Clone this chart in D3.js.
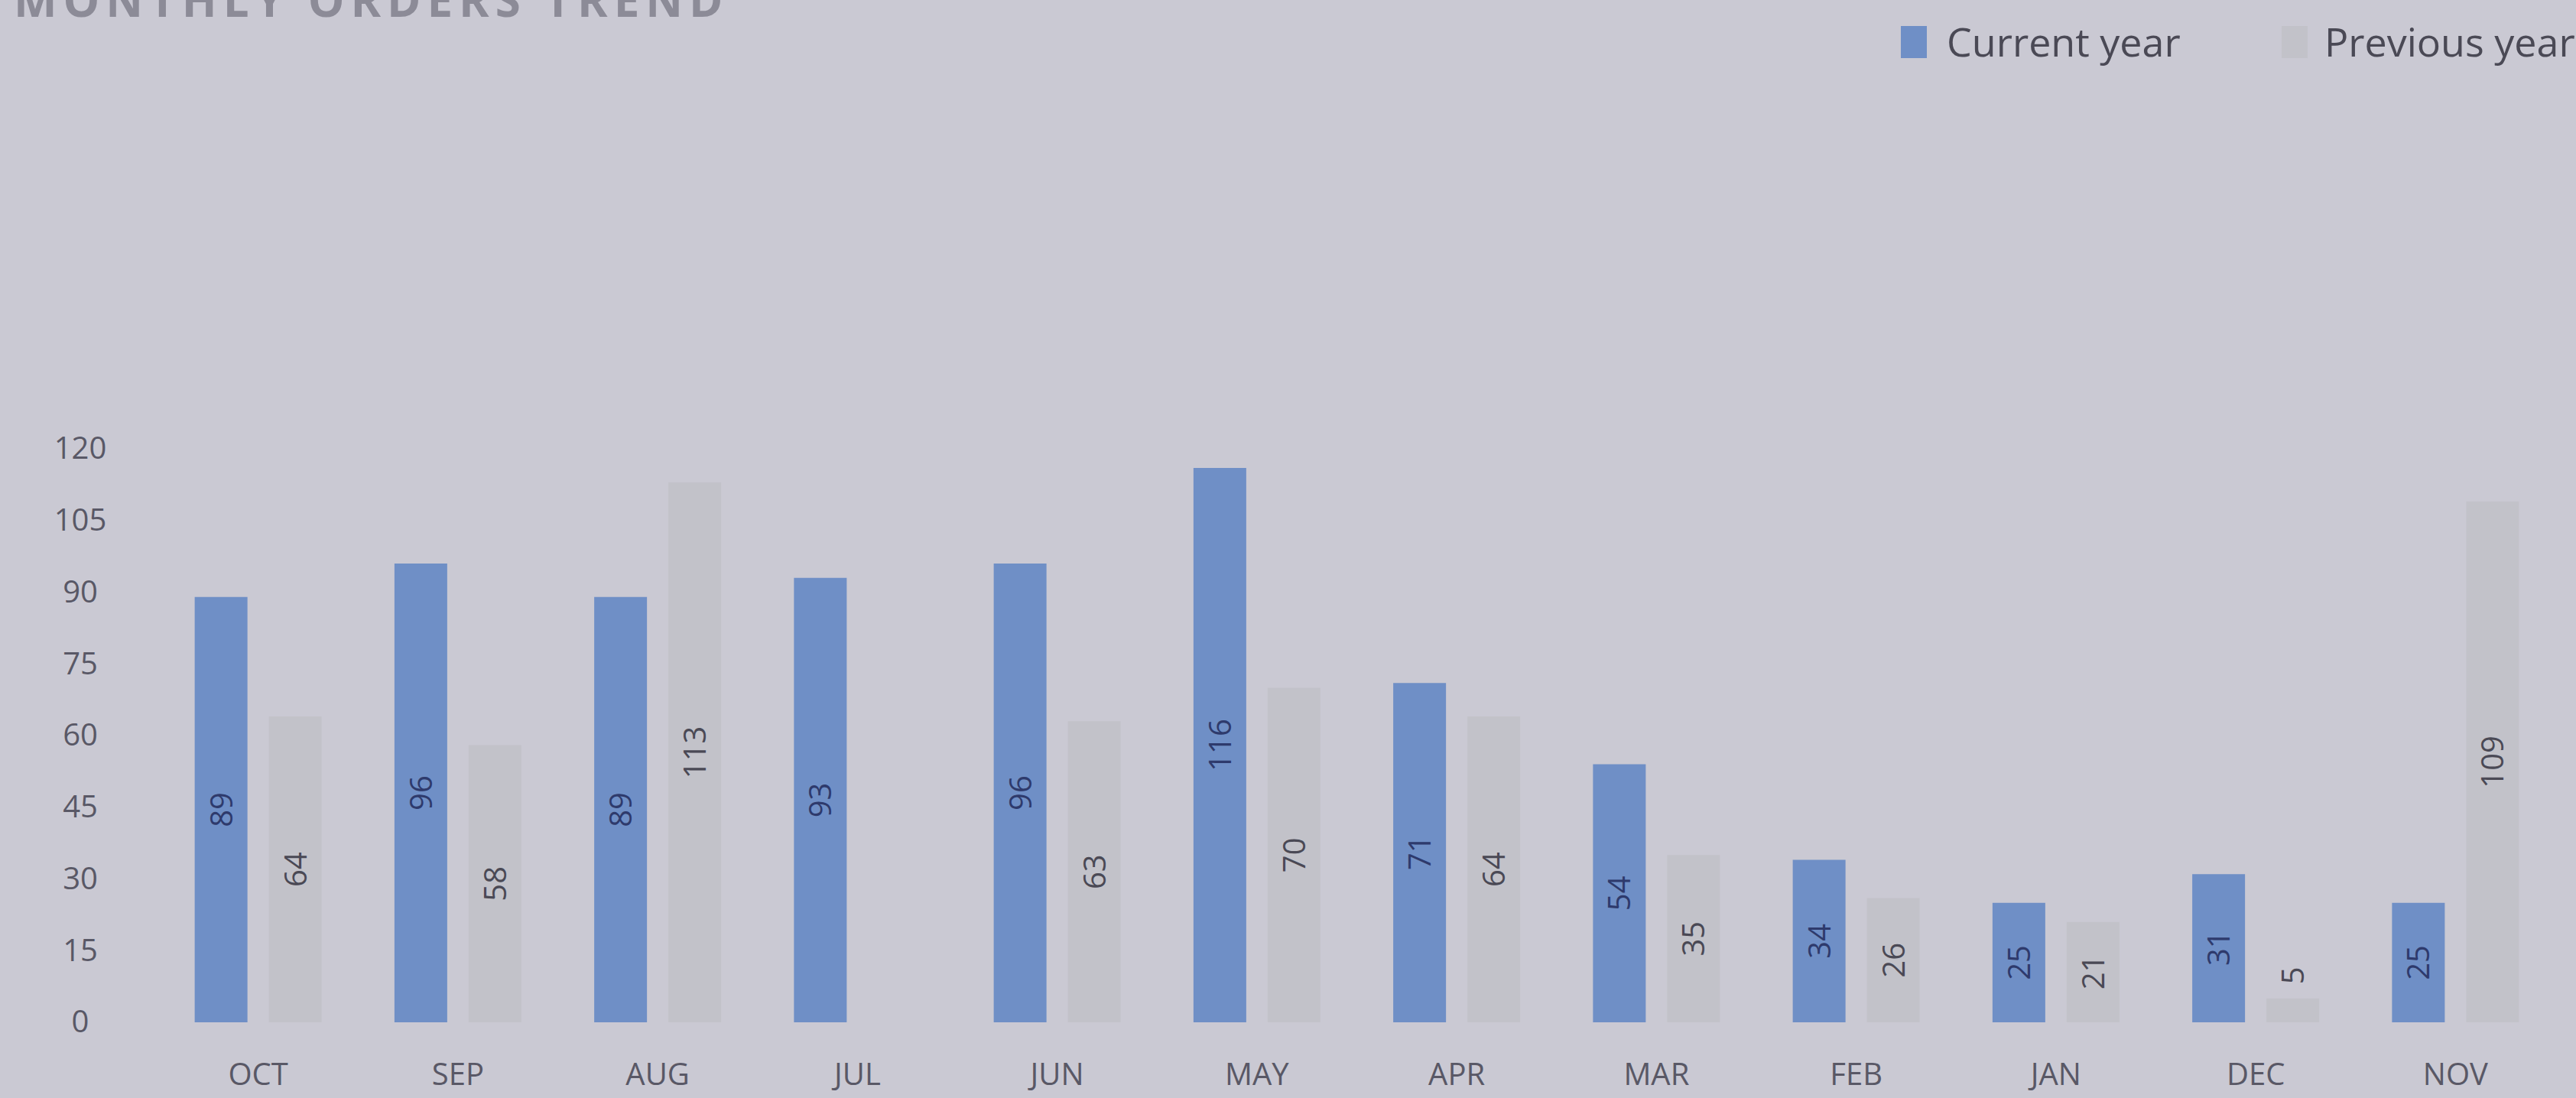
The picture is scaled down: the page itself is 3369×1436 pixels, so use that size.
<!DOCTYPE html>
<html>
<head>
<meta charset="utf-8">
<script src="https://cdn.jsdelivr.net/npm/d3@7"></script>
<style>
  html, body { margin: 0; padding: 0; background: #cac9d3; overflow: hidden; }
  svg { display: block; }
</style>
</head>
<body>
<svg id="chart" width="3369" height="1436"></svg>
<script>
// ---- data ----
const months = ["OCT", "SEP", "AUG", "JUL", "JUN", "MAY", "APR", "MAR", "FEB", "JAN", "DEC", "NOV"];
const currentYear = [89, 96, 89, 93, 96, 116, 71, 54, 34, 25, 31, 25];
const previousYear = [64, 58, 113, null, 63, 70, 64, 35, 26, 21, 5, 109];
const yTicks = [0, 15, 30, 45, 60, 75, 90, 105, 120];
const seriesNames = ["Current year", "Previous year"];
const titleText = "MONTHLY ORDERS TREND";

// ---- styles ----
const W = 3369, H = 1436;
const bg = "#cac9d3";
const blue = "#6f8fc6";
const grey = "#c2c2c9";
const font = "'Open Sans', 'DejaVu Sans', sans-serif";

const svg = d3.select("#chart");
svg.append("rect").attr("width", W).attr("height", H).attr("fill", bg);

// title (partially cut off at top as in the photo)
svg.append("text")
  .attr("x", 18).attr("y", 22)
  .attr("font-family", font).attr("font-size", 60).attr("font-weight", 700)
  .attr("letter-spacing", 8)
  .attr("fill", "#8c8b97")
  .text(titleText);

// scales
const x = d3.scaleBand().domain(months).range([207, 3342]).padding(0);
const y = d3.scaleLinear().domain([0, 120]).range([1337, 587]);

const barW = 69, gap = 28;
const cx = m => x(m) + x.bandwidth() / 2;

// y axis
const yAxis = svg.append("g")
  .attr("transform", "translate(105,0)")
  .call(d3.axisLeft(y).tickValues(yTicks).tickSize(0).tickPadding(0));
yAxis.select(".domain").remove();
yAxis.selectAll("text")
  .attr("x", 0).attr("text-anchor", "middle")
  .attr("font-family", font).attr("font-size", 40)
  .attr("fill", "#595866");

// x axis
const xAxis = svg.append("g")
  .attr("transform", `translate(0,${y(0)})`)
  .call(d3.axisBottom(x).tickSize(0));
xAxis.select(".domain").remove();
xAxis.selectAll("text")
  .attr("y", 68).attr("dy", "0.35em")
  .attr("font-family", font).attr("font-size", 40)
  .attr("fill", "#595866");

// data rows
const rows = months.map((m, i) => ({ m, cur: currentYear[i], prev: previousYear[i] }));

// current-year bars
svg.append("g").selectAll("rect").data(rows).join("rect")
  .attr("x", d => cx(d.m) - gap / 2 - barW)
  .attr("width", barW)
  .attr("y", d => y(d.cur))
  .attr("height", d => y(0) - y(d.cur))
  .attr("fill", blue);

// previous-year bars
const prevRows = rows.filter(d => d.prev != null);
svg.append("g").selectAll("rect").data(prevRows).join("rect")
  .attr("x", d => cx(d.m) + gap / 2)
  .attr("width", barW)
  .attr("y", d => y(d.prev))
  .attr("height", d => y(0) - y(d.prev))
  .attr("fill", grey);

// labels (rotated, centered in bar)
function labelY(v) {
  const h = y(0) - y(v);
  return h < 60 ? y(v) - 30 : (y(0) + y(v)) / 2;
}
svg.append("g").selectAll("text").data(rows).join("text")
  .attr("transform", d => `translate(${cx(d.m) - gap / 2 - barW / 2},${labelY(d.cur)}) rotate(-90)`)
  .attr("text-anchor", "middle").attr("dy", "0.36em")
  .attr("font-family", font).attr("font-size", 40)
  .attr("fill", "#2e3a6c")
  .text(d => d.cur);

svg.append("g").selectAll("text").data(prevRows).join("text")
  .attr("transform", d => `translate(${cx(d.m) + gap / 2 + barW / 2},${labelY(d.prev)}) rotate(-90)`)
  .attr("text-anchor", "middle").attr("dy", "0.36em")
  .attr("font-family", font).attr("font-size", 40)
  .attr("fill", "#4a4955")
  .text(d => d.prev);

// legend
const legend = svg.append("g");
const legendItems = [
  { name: seriesNames[0], color: blue, rx: 2486, tx: 2546 },
  { name: seriesNames[1], color: grey, rx: 2984, tx: 3040 }
];
legend.selectAll("rect").data(legendItems).join("rect")
  .attr("x", d => d.rx).attr("y", 34).attr("width", 34).attr("height", 42)
  .attr("fill", d => d.color);
legend.selectAll("text").data(legendItems).join("text")
  .attr("x", d => d.tx).attr("y", 56).attr("dy", "0.35em")
  .attr("font-family", font).attr("font-size", 52)
  .attr("fill", "#4a4955")
  .text(d => d.name);
</script>
</body>
</html>
